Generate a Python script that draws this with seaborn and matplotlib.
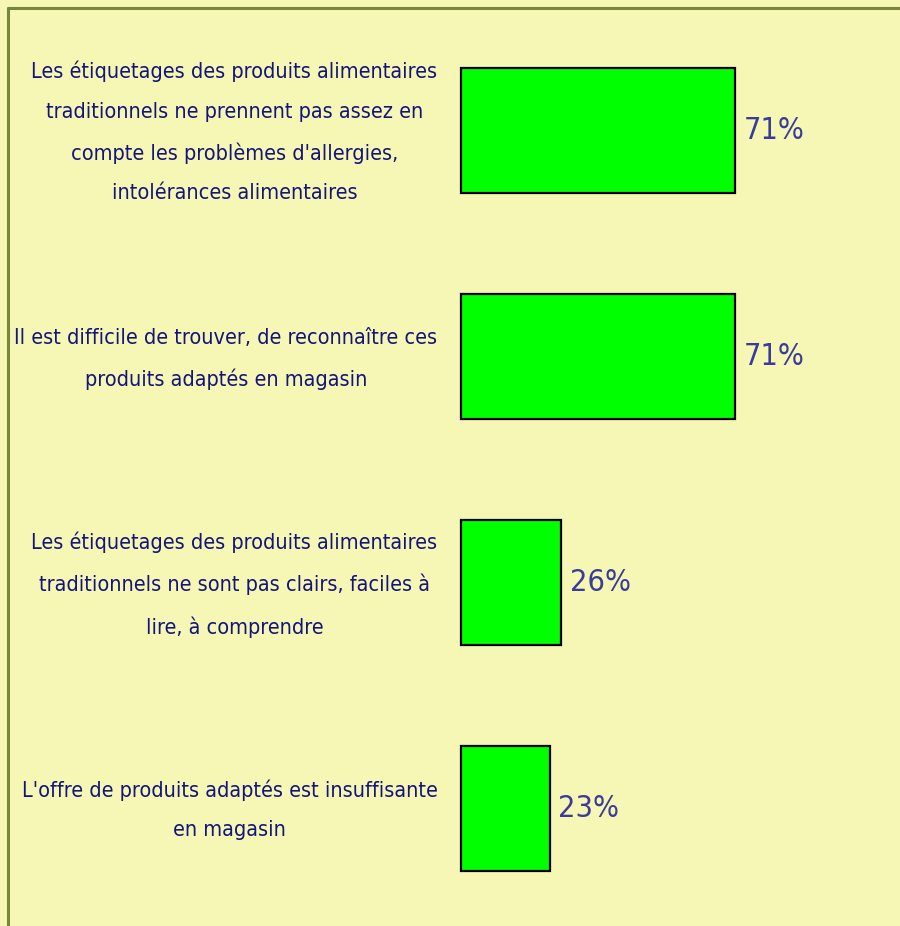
import matplotlib
matplotlib.use("Agg")
import matplotlib.pyplot as plt
from matplotlib.lines import Line2D
import matplotlib.transforms as mtransforms
import pandas as pd
import seaborn as sns

# data
labels = [
    "Les étiquetages des produits alimentaires\ntraditionnels ne prennent pas assez en\ncompte les problèmes d'allergies,\nintolérances alimentaires",
    "Il est difficile de trouver, de reconnaître ces\nproduits adaptés en magasin",
    "Les étiquetages des produits alimentaires\ntraditionnels ne sont pas clairs, faciles à\nlire, à comprendre",
    "L'offre de produits adaptés est insuffisante\nen magasin",
]
values = [71, 71, 26, 23]

df = pd.DataFrame({"label": labels, "value": values})

bg = "#F7F7B5"
sns.set_style("white")
plt.rcParams["font.family"] = ["DejaVu Sans"]
plt.rcParams["font.stretch"] = "condensed"

fig = plt.figure(figsize=(9, 9.26), dpi=100, facecolor=bg)
ax = fig.add_axes([461 / 900, 1 - 921 / 926, 386 / 900, (921 - 17.6) / 926])
ax.set_facecolor(bg)

sns.barplot(data=df, x="value", y="label", orient="h", color="#00FF00",
            edgecolor="black", linewidth=1.6, width=0.553, saturation=1, ax=ax)
for p in ax.patches:
    p.set_clip_on(False)

ax.set_xlim(0, 100)
ax.set_ylim(3.5, -0.5)
ax.set_xlabel("")
ax.set_ylabel("")
ax.set_xticks([])
for s in ax.spines.values():
    s.set_visible(False)

ax.tick_params(axis="y", length=0, pad=17)
shift = mtransforms.ScaledTranslation(0, 10 / 100, fig.dpi_scale_trans)
for t in ax.get_yticklabels():
    t.set_fontsize(15.5)
    t.set_fontstretch("condensed")
    t.set_color("#14147A")
    t.set_multialignment("center")
    t.set_linespacing(2.2)
    t.set_transform(t.get_transform() + shift)

for c in ax.containers:
    ax.bar_label(c, labels=[f"{v}%" for v in values], padding=6,
                 fontsize=22, fontstretch="condensed", color="#3B3B9A")

# olive border on the top and left
bc = "#76863A"
fig.add_artist(Line2D([7.5 / 900, 7.5 / 900], [0, 1 - 7.5 / 926], color=bc, lw=2.2,
                      transform=fig.transFigure))
fig.add_artist(Line2D([7.5 / 900, 1], [1 - 7.5 / 926, 1 - 7.5 / 926], color=bc, lw=2.2,
                      transform=fig.transFigure))

fig.savefig("out.png", dpi=100, facecolor=bg)
